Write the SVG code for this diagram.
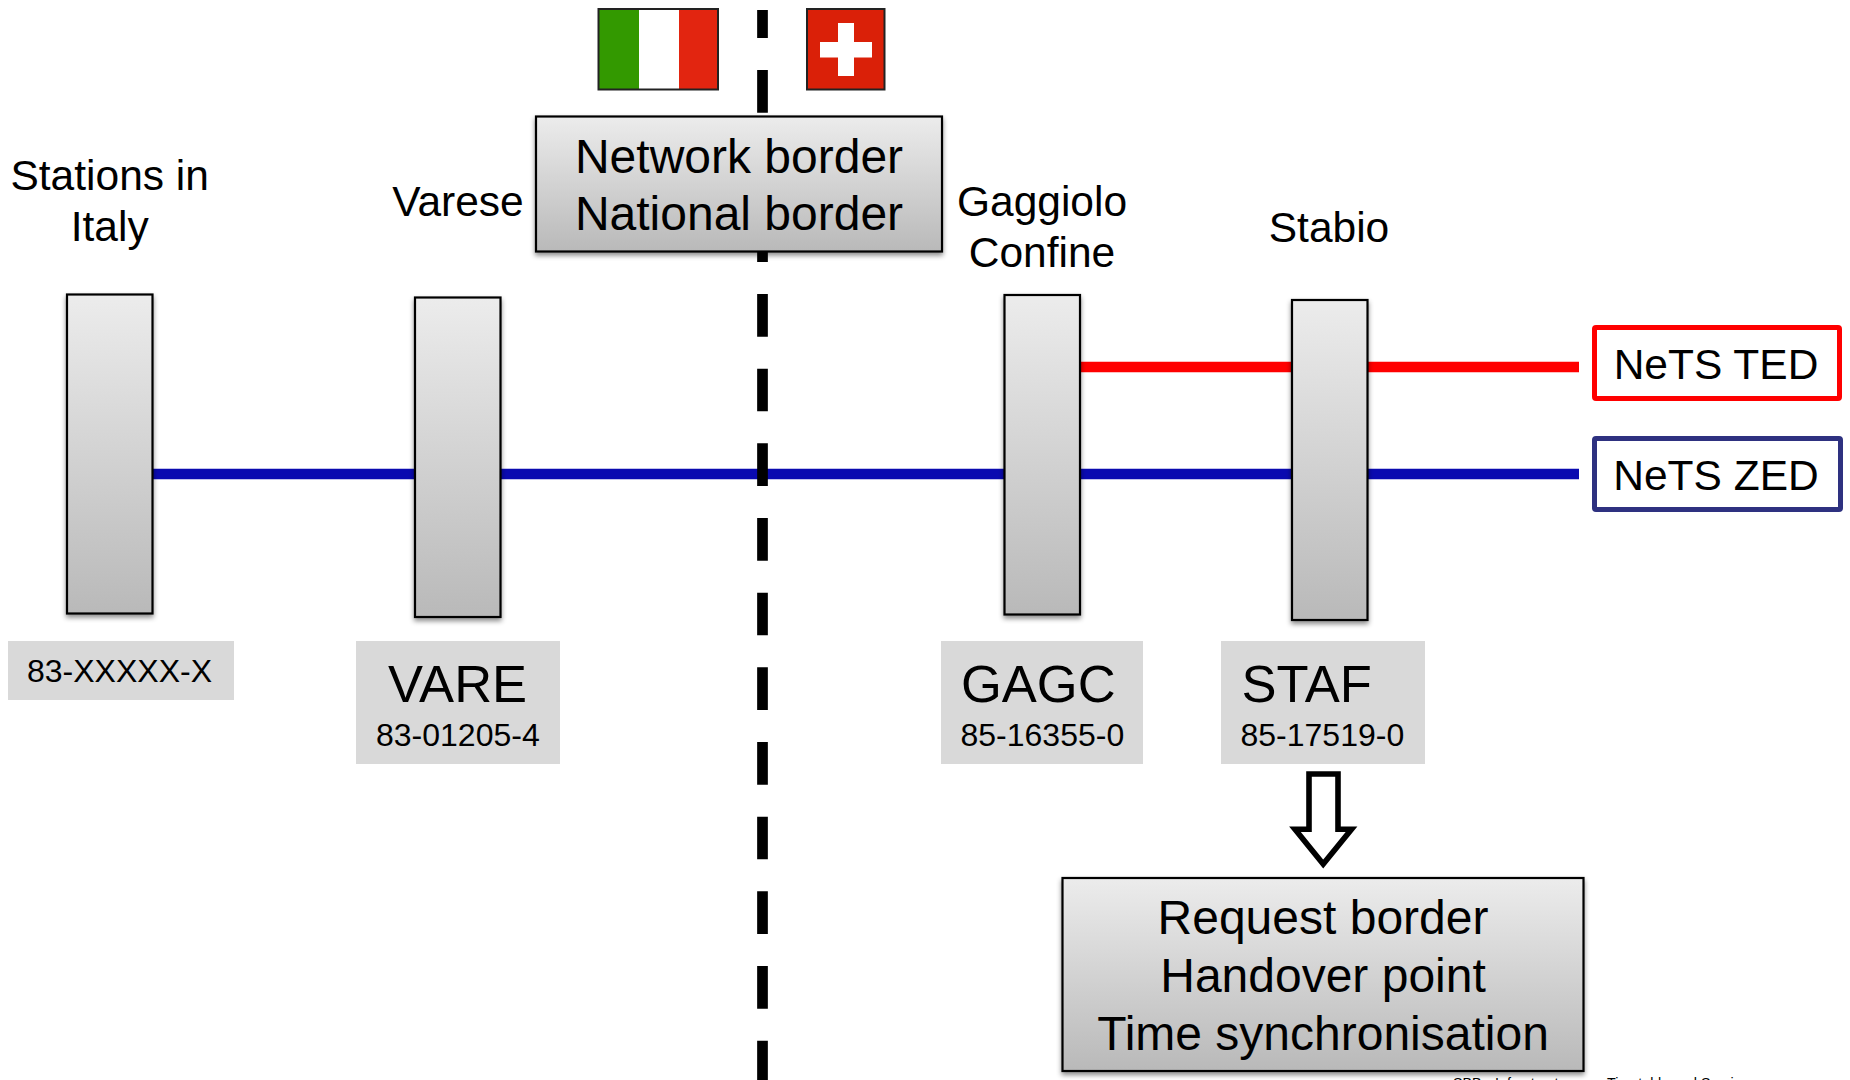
<svg xmlns="http://www.w3.org/2000/svg" width="1850" height="1080" viewBox="0 0 1850 1080">
<defs>
<linearGradient id="g" x1="0" y1="0" x2="0" y2="1"><stop offset="0" stop-color="#ececec"/><stop offset="1" stop-color="#b9b9b9"/></linearGradient>
<filter id="s" x="-20%" y="-10%" width="140%" height="125%"><feDropShadow dx="0" dy="3" stdDeviation="2.5" flood-color="#000" flood-opacity="0.45"/></filter>
</defs>
<style>
text{font-family:"Liberation Sans",Arial,sans-serif;fill:#000}
.m{text-anchor:middle}
.box{fill:url(#g);stroke:#000;stroke-width:2.2;filter:url(#s)}
.tag{fill:#d9d9d9}
.l42{font-size:42.5px}
.l47{font-size:48px}
.l53{font-size:52.5px}
.l32{font-size:32px}
.bus{fill:none;stroke-width:10.7}
</style>
<rect width="1850" height="1080" fill="#fff"/>
<g id="connectors">
<path class="bus" d="M1080 367H1579" stroke="#ff0000"/>
<path class="bus" d="M153 474H1579" stroke="#0a0ab0"/>
<path id="border-line" d="M762.5 10V1080" fill="none" stroke="#000" stroke-width="10.7" stroke-dasharray="42.67 32" stroke-dashoffset="14.67"/>
<path id="arrow" d="M1309 774H1338V829.3H1351.5L1323.2 864L1295 829.3H1309Z" fill="#fff" stroke="#000" stroke-width="5.6"/>
</g>
<g id="flag-italy">
<rect x="598.5" y="9" width="40.5" height="80.5" fill="#339900"/><rect x="639" y="9" width="40" height="80.5" fill="#fff"/><rect x="679" y="9" width="39" height="80.5" fill="#e22510"/>
<rect x="598.5" y="9" width="119.5" height="80.5" fill="none" stroke="#222" stroke-width="2"/>
</g>
<g id="flag-switzerland">
<rect x="807" y="9" width="77.5" height="80.5" fill="#da2008" stroke="#222" stroke-width="2"/>
<rect x="838" y="23" width="16" height="53" fill="#fff"/><rect x="820" y="42" width="52" height="15.5" fill="#fff"/>
</g>
<g id="border-box">
<rect class="box" x="536" y="116.5" width="406" height="135"/>
<text class="l47 m" x="739" y="172.7">Network border</text>
<text class="l47 m" x="739" y="229.7">National border</text>
</g>
<g id="station-italy">
<text class="l42 m" x="109.7" y="190">Stations in</text>
<text class="l42 m" x="109.7" y="240.7">Italy</text>
<rect class="box" x="67" y="294.5" width="85.5" height="319"/>
<rect class="tag" x="8" y="641" width="226" height="59"/>
<text class="l32" x="27" y="682">83-XXXXX-X</text>
</g>
<g id="station-vare">
<text class="l42 m" x="458" y="216">Varese</text>
<rect class="box" x="415" y="297.5" width="85.5" height="319.5"/>
<rect class="tag" x="356" y="641" width="204" height="123"/>
<text class="l53" x="388" y="702">VARE</text>
<text class="l32" x="376" y="746">83-01205-4</text>
</g>
<g id="station-gagc">
<text class="l42 m" x="1042" y="215.7">Gaggiolo</text>
<text class="l42 m" x="1042" y="266.7">Confine</text>
<rect class="box" x="1004.5" y="295" width="75.5" height="319.5"/>
<rect class="tag" x="941" y="641" width="202" height="123"/>
<text class="l53" x="961" y="702">GAGC</text>
<text class="l32" x="960.5" y="746">85-16355-0</text>
</g>
<g id="station-staf">
<text class="l42 m" x="1329" y="241.7">Stabio</text>
<rect class="box" x="1292" y="300" width="75.5" height="320"/>
<rect class="tag" x="1221" y="641" width="204" height="123"/>
<text class="l53" x="1241.5" y="702">STAF</text>
<text class="l32" x="1240.5" y="746">85-17519-0</text>
</g>
<g id="nets-ted">
<rect x="1594.5" y="327.5" width="245" height="71" rx="1.5" fill="#fff" stroke="#ff0000" stroke-width="5"/>
<text class="l42 m" x="1716" y="379">NeTS TED</text>
</g>
<g id="nets-zed">
<rect x="1594.5" y="438.5" width="246" height="71" rx="1.5" fill="#fff" stroke="#2e3180" stroke-width="5"/>
<text class="l42 m" x="1716" y="489.5">NeTS ZED</text>
</g>
<g id="handover-box">
<rect class="box" x="1062.5" y="878" width="521" height="193"/>
<text class="l47 m" x="1323" y="934">Request border</text>
<text class="l47 m" x="1323" y="992">Handover point</text>
<text class="l47 m" x="1323" y="1050">Time synchronisation</text>
</g>
<g id="footer" font-size="14.3">
<text x="1453" y="1088">SBB</text><text x="1495" y="1088">Infrastructure</text><text x="1607" y="1088">Timetable and Services</text>
</g>
</svg>
